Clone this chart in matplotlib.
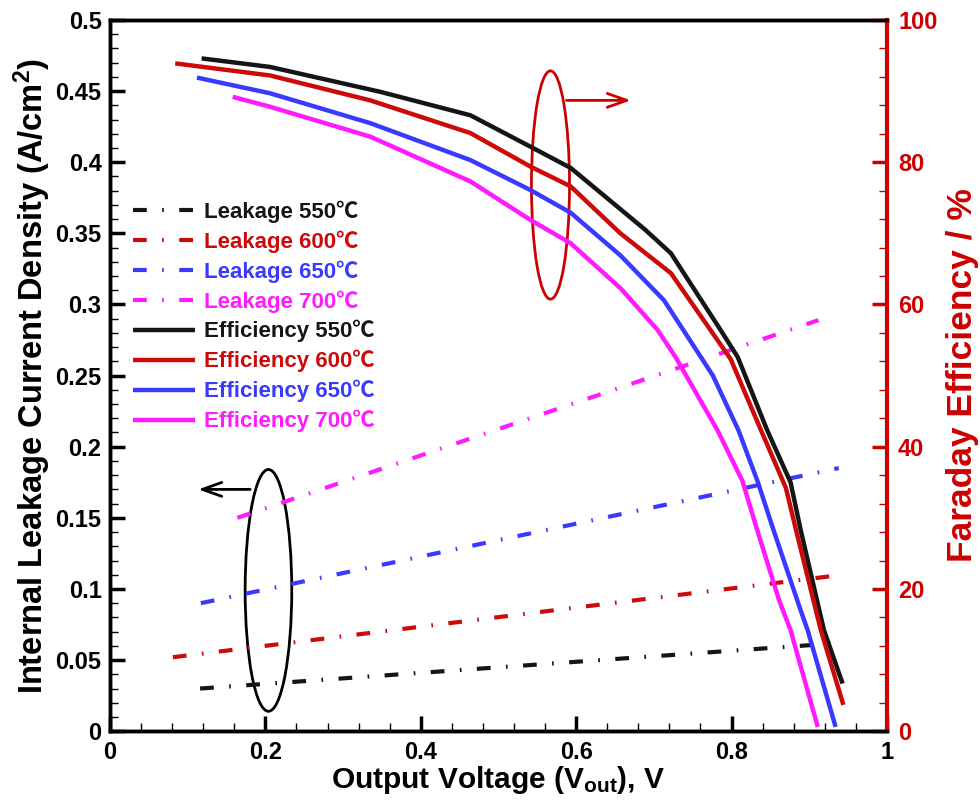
import matplotlib
matplotlib.use("Agg")
import matplotlib.pyplot as plt
from matplotlib.patches import Ellipse
from matplotlib.ticker import MultipleLocator, FuncFormatter

plt.rcParams['font.family'] = ['Liberation Sans', 'DejaVu Sans']
plt.rcParams['font.weight'] = 'bold'
plt.rcParams['mathtext.fontset'] = 'custom'
plt.rcParams['mathtext.rm'] = 'Liberation Sans:bold'
plt.rcParams['mathtext.bf'] = 'Liberation Sans:bold'
plt.rcParams['mathtext.it'] = 'Liberation Sans:bold'

# ---------------- data ----------------
temps = ['550', '600', '650', '700']
colors = ['#151515', '#cc0a0a', '#3a3aff', '#ff1aff']

# Leakage current density (left axis), straight lines: endpoints
leak_x = {
    '550': [0.116, 0.940],
    '600': [0.081, 0.943],
    '650': [0.117, 0.938],
    '700': [0.164, 0.912],
}
leak_y = {
    '550': [0.030, 0.062],
    '600': [0.052, 0.110],
    '650': [0.090, 0.185],
    '700': [0.150, 0.289],
}

# Faraday efficiency (right axis)
eff_x = {
    '550': [0.118, 0.206, 0.348, 0.464, 0.541, 0.593, 0.689, 0.722, 0.786, 0.808, 0.846, 0.876, 0.889, 0.919, 0.943],
    '600': [0.084, 0.206, 0.335, 0.464, 0.541, 0.593, 0.657, 0.722, 0.773, 0.799, 0.838, 0.870, 0.883, 0.915, 0.944],
    '650': [0.112, 0.206, 0.335, 0.464, 0.541, 0.593, 0.657, 0.713, 0.738, 0.776, 0.809, 0.834, 0.854, 0.889, 0.898, 0.934],
    '700': [0.158, 0.206, 0.335, 0.464, 0.541, 0.593, 0.657, 0.705, 0.728, 0.782, 0.814, 0.833, 0.861, 0.876, 0.911],
}
eff_y = {
    '550': [94.6, 93.4, 89.9, 86.6, 82.2, 79.2, 70.5, 67.2, 56.4, 52.6, 42.3, 35.0, 28.3, 14.2, 6.7],
    '600': [93.9, 92.2, 88.7, 84.1, 79.4, 76.6, 70.0, 64.4, 56.4, 52.3, 42.3, 34.2, 28.3, 14.2, 3.7],
    '650': [91.9, 89.7, 85.5, 80.3, 76.1, 72.9, 66.9, 60.6, 56.4, 50.0, 42.3, 35.0, 28.3, 17.0, 14.2, 0.6],
    '700': [89.2, 87.8, 83.6, 77.3, 71.9, 68.6, 62.3, 56.4, 52.6, 42.3, 35.2, 28.3, 18.5, 14.2, 0.6],
}

# annotation helpers (data coords)
left_ellipse = dict(xy=(0.204, 0.099), width=0.060, height=0.170)
left_arrow = ((0.184, 0.170), (0.110, 0.170))
right_ellipse = dict(xy=(0.567, 76.8), width=0.049, height=32.1)
right_arrow = ((0.584, 88.7), (0.674, 88.7))

RED = '#cc0000'

fig = plt.figure(figsize=(9.8, 8.0), dpi=100)
ax = fig.add_axes([0.1122, 0.086, 0.7928, 0.889])
ax2 = ax.twinx()

leak_dash = (0, (3.3, 3.7, 0.4, 3.7))
handles = []
for t, c in zip(temps, colors):
    h, = ax.plot(leak_x[t], leak_y[t], color=c, lw=3.0, linestyle=leak_dash,
                 label='Leakage %s℃' % t, dash_capstyle='butt')
    handles.append(h)
for t, c in zip(temps, colors):
    h, = ax2.plot(eff_x[t], eff_y[t], color=c, lw=3.2, label='Efficiency %s℃' % t,
                  solid_joinstyle='round', solid_capstyle='butt')
    handles.append(h)

ax.set_xlim(0, 1)
ax.set_ylim(0, 0.5)
ax2.set_ylim(0, 100)

ax.xaxis.set_major_locator(MultipleLocator(0.2))
ax.xaxis.set_minor_locator(MultipleLocator(0.04))
ax.yaxis.set_major_locator(MultipleLocator(0.05))
ax.yaxis.set_minor_locator(MultipleLocator(0.01))
ax2.yaxis.set_major_locator(MultipleLocator(20))
ax2.yaxis.set_minor_locator(MultipleLocator(4))

fmt = FuncFormatter(lambda v, p: ('%g' % round(v, 4)))
ax.xaxis.set_major_formatter(fmt)
ax.yaxis.set_major_formatter(fmt)
ax2.yaxis.set_major_formatter(FuncFormatter(lambda v, p: '%d' % round(v)))

ax.tick_params(axis='both', which='major', direction='in', length=11, width=2.5,
               labelsize=17, pad=6, top=False, right=False)
ax.tick_params(axis='both', which='minor', direction='in', length=6, width=1.0,
               top=False, right=False)
ax.tick_params(axis='x', pad=7)
ax2.tick_params(axis='y', which='major', direction='in', length=11, width=2.5,
                labelsize=17, colors=RED, pad=8)
ax2.tick_params(axis='y', which='minor', direction='in', length=6, width=1.0, colors=RED)
for lab in ax.get_xticklabels() + ax.get_yticklabels() + ax2.get_yticklabels():
    lab.set_fontweight('bold')

for s in ['left', 'bottom', 'top']:
    ax.spines[s].set_linewidth(2.5)
    ax2.spines[s].set_linewidth(2.5)
ax.spines['right'].set_visible(False)
ax2.spines['right'].set_color(RED)
ax2.spines['right'].set_linewidth(3.0)

ax.set_xlabel(r'Output Voltage (V$_{\mathregular{out}}$), V', fontsize=21.5,
              fontweight='bold', labelpad=0)
ax.set_ylabel(r'Internal Leakage Current Density (A/cm$^{\mathregular{2}}$)', fontsize=23.5,
              fontweight='bold', labelpad=2)
ax2.set_ylabel('Faraday Efficiency / %', fontsize=25.5, fontweight='bold', color=RED,
               labelpad=6)

# annotations
ax.add_patch(Ellipse(left_ellipse['xy'], left_ellipse['width'], left_ellipse['height'],
                     fill=False, edgecolor='black', lw=2.0))
ax.annotate('', xy=left_arrow[1], xytext=left_arrow[0],
            arrowprops=dict(arrowstyle='->,head_length=1.4,head_width=0.5', color='black', lw=2.0))
ax2.add_patch(Ellipse(right_ellipse['xy'], right_ellipse['width'], right_ellipse['height'],
                      fill=False, edgecolor=RED, lw=2.0))
ax2.annotate('', xy=right_arrow[1], xytext=right_arrow[0],
             arrowprops=dict(arrowstyle='->,head_length=1.4,head_width=0.5', color=RED, lw=2.0))

leg = ax2.legend(handles=handles, loc='upper left', bbox_to_anchor=(0.018, 0.759),
                 frameon=False, handlelength=2.8, handletextpad=0.4,
                 labelspacing=0.34, borderaxespad=0,
                 prop={'family': ['Liberation Sans', 'Noto Sans CJK SC'], 'weight': 'bold', 'size': 16})
for txt, c in zip(leg.get_texts(), colors + colors):
    txt.set_color(c)

fig.savefig('out.png', dpi=100)
